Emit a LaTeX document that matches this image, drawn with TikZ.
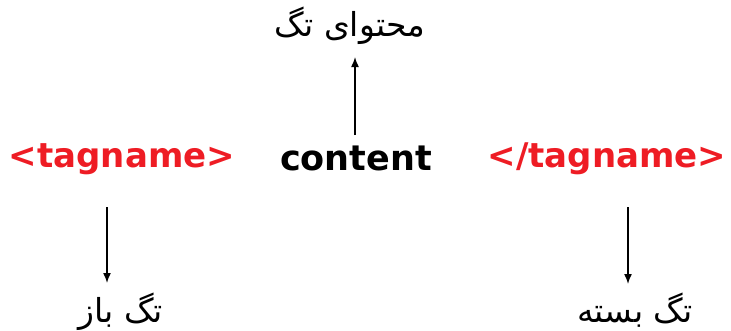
\documentclass[tikz,border=0pt]{standalone}
\usepackage{fontspec}
\usepackage{xcolor}
\usetikzlibrary{positioning, arrows.meta}
\TeXXeTstate=1
\setmainfont{DejaVu Sans}
\newfontfamily\farsi[Script=Arabic]{DejaVu Sans}
\definecolor{tagred}{RGB}{238,28,36}
\tikzset{
  tag/.style={font=\fontsize{34}{36}\selectfont\bfseries, anchor=base, inner sep=0pt},
  fa/.style={font=\fontsize{33}{36}\selectfont\farsi, anchor=base, inner sep=0pt},
  arr/.style={-{Latex[length=10pt,width=8pt]}, line width=1.5pt}
}
\begin{document}
\begin{tikzpicture}[x=1pt, y=-1pt]
\useasboundingbox (0,0) rectangle (731,330);
\node[tag, text=tagred] (open) at (122,167) {<tagname>};
\node[tag, font=\fontsize{35}{36}\selectfont\bfseries] (content) at (356,170) {content};
\node[tag, text=tagred] (close) at (607,167) {</tagname>};
\node[fa] (contentlbl) at (350,36) {\beginR محتوای تگ\endR};
\node[fa] (openlbl) at (121,322) {\beginR تگ باز\endR};
\node[fa] (closelbl) at (635,322) {\beginR تگ بسته\endR};
% arrows
\draw[arr] ([xshift=-1pt,yshift=35pt]content.base) -- ([xshift=5pt,yshift=-21pt]contentlbl.base);
\draw[arr] ([xshift=-15pt,yshift=-40pt]open.base) -- ([xshift=-14pt,yshift=39pt]openlbl.base);
\draw[arr] ([xshift=21pt,yshift=-40pt]close.base) -- ([xshift=-7pt,yshift=38pt]closelbl.base);
\end{tikzpicture}
\end{document}
